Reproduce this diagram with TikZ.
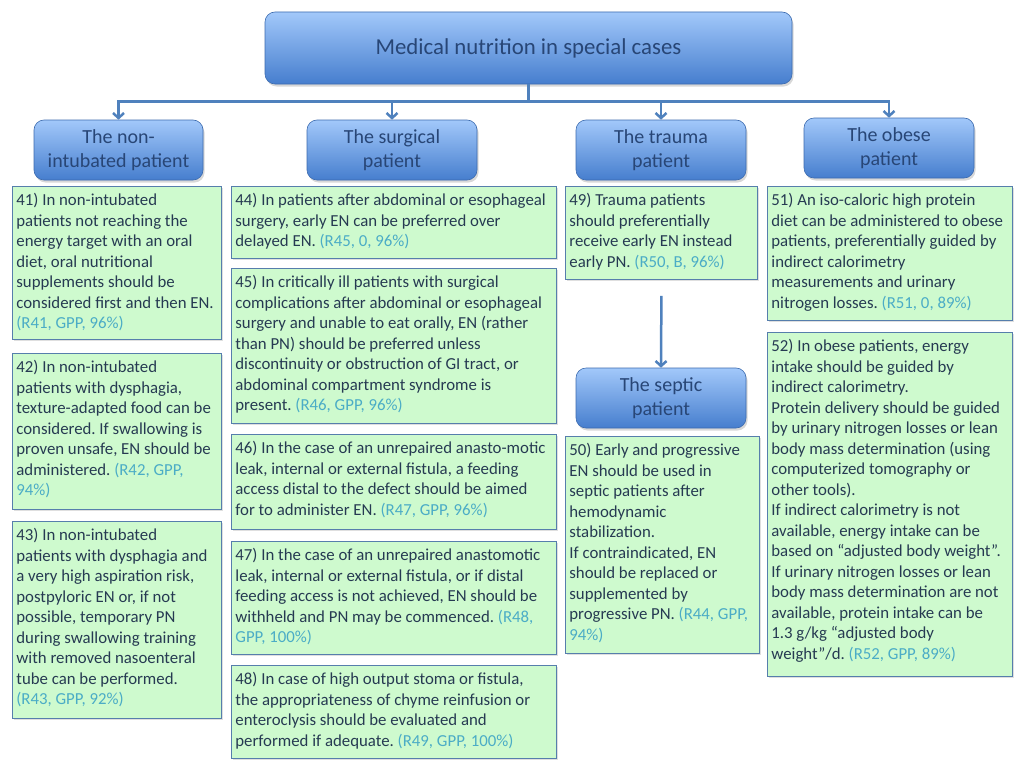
\documentclass[tikz,border=0pt]{standalone}
\usepackage{fontspec}
\setmainfont{Carlito}
\usetikzlibrary{shadows, arrows.meta}

\definecolor{recgreen}{RGB}{206,250,206}
\definecolor{recedge}{RGB}{86,126,172}
\definecolor{rectext}{RGB}{38,58,82}
\definecolor{reftext}{RGB}{75,172,198}
\definecolor{headtop}{RGB}{162,200,250}
\definecolor{headbot}{RGB}{70,126,206}
\definecolor{headtext}{RGB}{40,70,118}
\definecolor{linkblue}{RGB}{79,129,189}

\newcommand{\rf}[1]{{\color{reftext}#1}}
\newcommand{\recbox}[3]{\parbox[t][#2][t]{#1}{\raggedright\frenchspacing\strut#3}}

\begin{document}
\begin{tikzpicture}[x=1pt, y=-1pt,
	head/.style={draw=headbot!85!black, line width=0.6pt, rounded corners=10pt,
		top color=headtop, bottom color=headbot, text=headtext, align=center,
		font=\fontsize{20}{24}\selectfont,
		drop shadow={shadow xshift=1.5pt, shadow yshift=-2.5pt, opacity=0.3}},
	rec/.style={draw=recedge, line width=0.8pt, fill=recgreen, text=rectext,
		anchor=north west, inner xsep=4pt, inner ysep=5pt,
		font=\fontsize{16.8}{20.5}\selectfont,
		drop shadow={shadow xshift=1.5pt, shadow yshift=-2pt, opacity=0.25}},
	link/.style={linkblue, line width=2.5pt,
		-{Straight Barb[length=5pt, width=11pt]}}
]
	\fill[white] (0,0) rectangle (1024,768);
	\useasboundingbox (0,0) rectangle (1024,768);

	% headers
	\node[head, minimum width=527pt, minimum height=72pt, font=\fontsize{22.8}{26}\selectfont]
		(top) at (528.5,48) {Medical nutrition in special cases};
	\node[head, minimum width=169pt, minimum height=60pt] (nonint) at (118.5,150)
		{The non-\\intubated patient};
	\node[head, minimum width=170pt, minimum height=60pt] (surg) at (392,150)
		{The surgical\\patient};
	\node[head, minimum width=170pt, minimum height=60pt] (trauma) at (661,150)
		{The trauma\\patient};
	\node[head, minimum width=170pt, minimum height=60pt] (obese) at (889,148)
		{The obese\\patient};
	\node[head, minimum width=170pt, minimum height=60pt] (septic) at (661,398)
		{The septic\\patient};

	% the non-intubated patient
	\node[rec] (r41) at (12,186) {\recbox{201pt}{143pt}{41) In non-intubated\\
		patients not reaching the\\ energy target with an oral\\ diet, oral nutritional\\
		supplements should be\\ considered first and then EN.\\ \rf{(R41, GPP, 96\%)}}};
	\node[rec] (r42) at (12,353) {\recbox{201pt}{146pt}{42) In non-intubated\\
		patients with dysphagia,\\ texture-adapted food can be\\ considered. If swallowing is\\
		proven unsafe, EN should be\\ administered. \rf{(R42, GPP,}\\ \rf{94\%)}}};
	\node[rec] (r43) at (12,521) {\recbox{201pt}{187pt}{43) In non-intubated\\
		patients with dysphagia and\\ a very high aspiration risk,\\ postpyloric EN or, if not\\
		possible, temporary PN\\ during swallowing training\\ with removed nasoenteral\\
		tube can be performed.\\ \rf{(R43, GPP, 92\%)}}};

	% the surgical patient
	\node[rec] (r44) at (231,186) {\recbox{317pt}{62pt}{44) In patients after abdominal or esophageal\\
		surgery, early EN can be preferred over\\ delayed EN. \rf{(R45, 0, 96\%)}}};
	\node[rec] (r45) at (231,268) {\recbox{317pt}{145pt}{45) In critically ill patients with surgical\\
		complications after abdominal or esophageal\\ surgery and unable to eat orally, EN (rather\\
		than PN) should be preferred unless\\ discontinuity or obstruction of GI tract, or\\
		abdominal compartment syndrome is\\ present. \rf{(R46, GPP, 96\%)}}};
	\node[rec] (r46) at (231,434) {\recbox{317pt}{85pt}{46) In the case of an unrepaired anasto-motic\\
		leak, internal or external fistula, a feeding\\ access distal to the defect should be aimed\\
		for to administer EN. \rf{(R47, GPP, 96\%)}}};
	\node[rec] (r47) at (231,541) {\recbox{317pt}{103pt}{47) In the case of an unrepaired anastomotic\\
		leak, internal or external fistula, or if distal\\ feeding access is not achieved, EN should be\\
		withheld and PN may be commenced. \rf{(R48,}\\ \rf{GPP, 100\%)}}};
	\node[rec] (r48) at (231,665) {\recbox{317pt}{83pt}{48) In case of high output stoma or fistula,\\
		the appropriateness of chyme reinfusion or\\ enteroclysis should be evaluated and\\
		performed if adequate. \rf{(R49, GPP, 100\%)}}};

	% the trauma and the septic patient
	\node[rec] (r49) at (565,186) {\recbox{184pt}{83pt}{49) Trauma patients\\
		should preferentially\\ receive early EN instead\\ early PN. \rf{(R50, B, 96\%)}}};
	\node[rec] (r50) at (565,436) {\recbox{186pt}{207pt}{50) Early and progressive\\
		EN should be used in\\ septic patients after\\ hemodynamic\\ stabilization.\\
		If contraindicated, EN\\ should be replaced or\\ supplemented by\\
		progressive PN. \rf{(R44, GPP,}\\ \rf{94\%)}}};

	% the obese patient
	\node[rec] (r51) at (767,186) {\recbox{237pt}{124pt}{51) An iso-caloric high protein\\
		diet can be administered to obese\\ patients, preferentially guided by\\
		indirect calorimetry\\ measurements and urinary\\ nitrogen losses. \rf{(R51, 0, 89\%)}}};
	\node[rec] (r52) at (767,332) {\recbox{237pt}{334pt}{52) In obese patients, energy\\
		intake should be guided by\\ indirect calorimetry.\\ Protein delivery should be guided\\
		by urinary nitrogen losses or lean\\ body mass determination (using\\
		computerized tomography or\\ other tools).\\ If indirect calorimetry is not\\
		available, energy intake can be\\ based on “adjusted body weight”.\\
		If urinary nitrogen losses or lean\\ body mass determination are not\\
		available, protein intake can be\\ 1.3 g/kg “adjusted body\\
		weight”/d. \rf{(R52, GPP, 89\%)}}};

	% connectors
	\draw[link] (top.south) -- ++(0,17) -| (nonint.north);
	\draw[link] (top.south) -- ++(0,17) -| (surg.north);
	\draw[link] (top.south) -- ++(0,17) -| (trauma.north);
	\draw[link] (top.south) -- ++(0,17) -| (obese.north);
	\draw[link] ([yshift=-16pt]r49.south) -- (septic.north);
\end{tikzpicture}
\end{document}
